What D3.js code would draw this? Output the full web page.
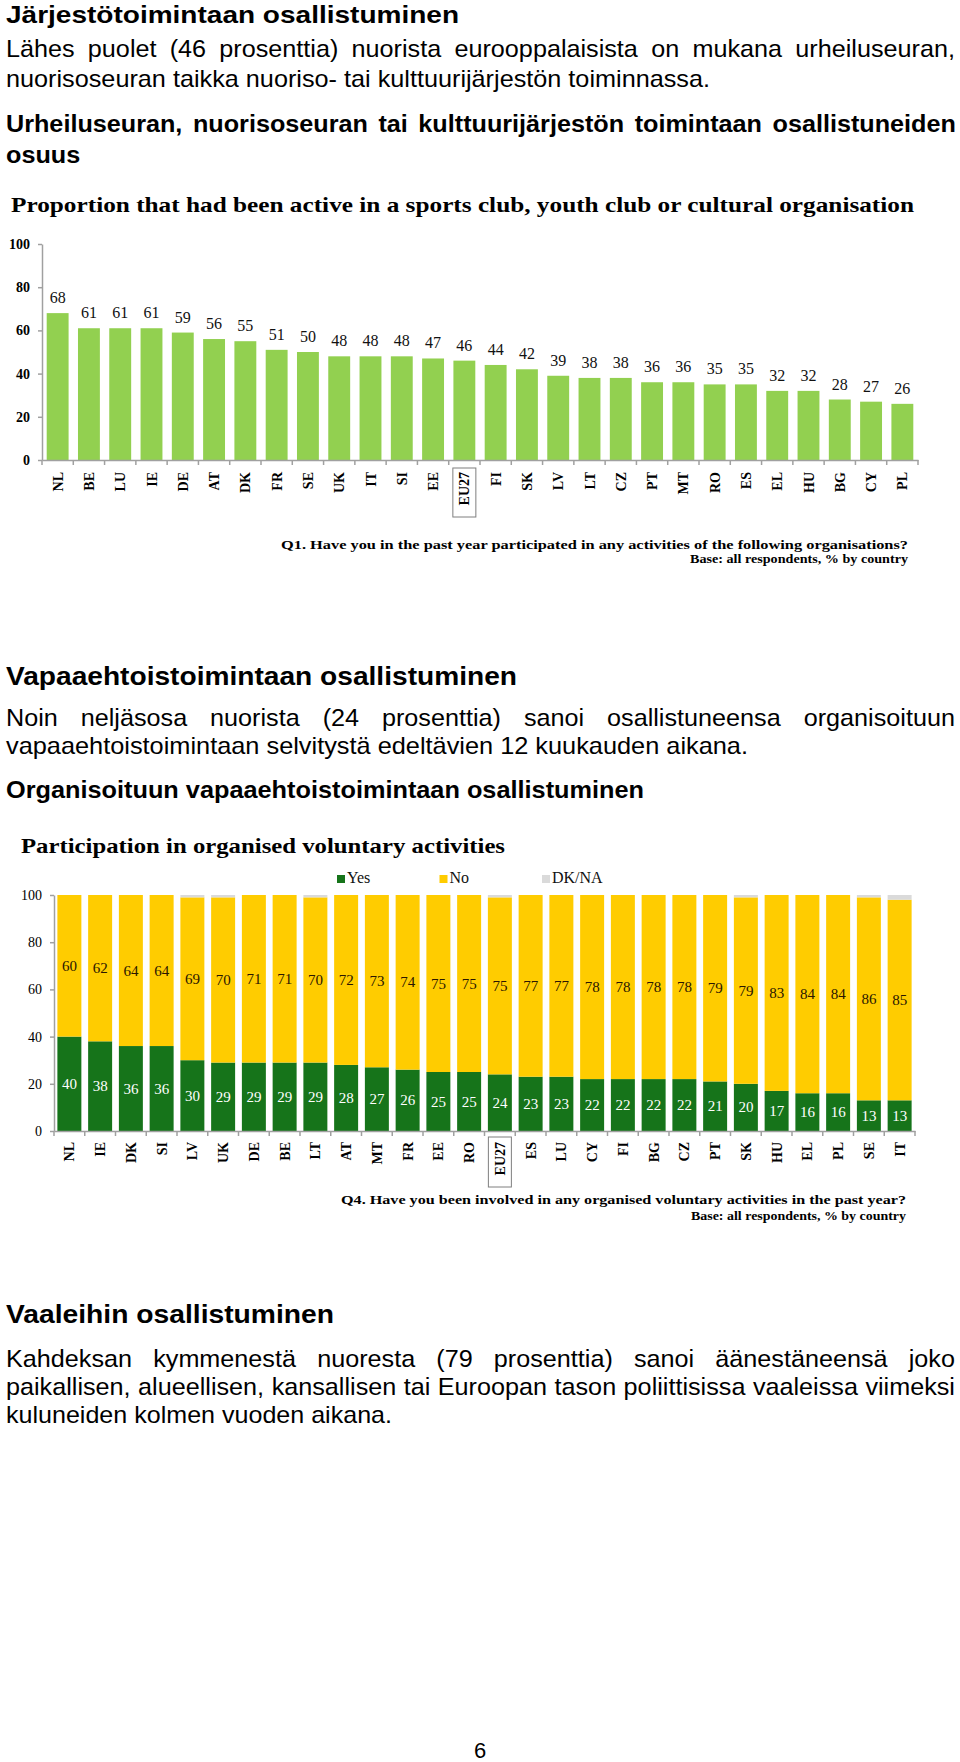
<!DOCTYPE html>
<html>
<head>
<meta charset="utf-8">
<script src="https://cdn.jsdelivr.net/npm/d3@7"></script>
<style>
  html, body { margin: 0; padding: 0; background: #fff; }
  svg { display: block; }
</style>
</head>
<body>
<script>
// ---------------- DATA ----------------
const categories1 = ["NL","BE","LU","IE","DE","AT","DK","FR","SE","UK","IT","SI","EE","EU27","FI","SK","LV","LT","CZ","PT","MT","RO","ES","EL","HU","BG","CY","PL"];
const values1 = [68,61,61,61,59,56,55,51,50,48,48,48,47,46,44,42,39,38,38,36,36,35,35,32,32,28,27,26];

const categories2 = ["NL","IE","DK","SI","LV","UK","DE","BE","LT","AT","MT","FR","EE","RO","EU27","ES","LU","CY","FI","BG","CZ","PT","SK","HU","EL","PL","SE","IT"];
const yes2  = [40,38,36,36,30,29,29,29,29,28,27,26,25,25,24,23,23,22,22,22,22,21,20,17,16,16,13,13];
const no2   = [60,62,64,64,69,70,71,71,70,72,73,74,75,75,75,77,77,78,78,78,78,79,79,83,84,84,86,85];
const dkna2 = [0,0,0,0,1,1,0,0,1,0,0,0,0,0,1,0,0,0,0,0,0,0,1,0,0,0,1,2];
const seriesNames2 = ["Yes","No","DK/NA"];

const yTicks = [0,20,40,60,80,100];

// ---------------- STYLE ----------------
const SANS = "'Liberation Sans', Arial, sans-serif";
const SERIF = "'Liberation Serif', 'Times New Roman', serif";
const SX = 1.05;
const GREEN1 = "#92d050";
const GREEN2 = "#16741a";
const YELLOW = "#ffcc00";
const GREY = "#dadada";
const AXIS = "#a0a0a0";

const svg = d3.select("body").append("svg")
  .attr("width", 960).attr("height", 1762)
  .style("background", "#fff");

// ---------------- TEXT HELPERS ----------------
function fitLine(str, x0, x1, y, size, weight, family) {
  return svg.append("text")
    .attr("x", x0).attr("y", y)
    .attr("font-family", family || SANS)
    .attr("font-size", size)
    .attr("font-weight", weight || "normal")
    .attr("fill", "#000")
    .attr("textLength", x1 - x0)
    .attr("lengthAdjust", "spacingAndGlyphs")
    .text(str);
}
function scaledLine(str, x0, y, size, weight, family, sx) {
  return svg.append("text")
    .attr("transform", `translate(${x0},${y}) scale(${sx},1)`)
    .attr("font-family", family || SANS)
    .attr("font-size", size)
    .attr("font-weight", weight || "normal")
    .attr("fill", "#000")
    .text(str);
}
function justifyLine(str, x0, x1, y, size, weight, family, sx) {
  const words = str.split(" ");
  const g = svg.append("g");
  const nodes = words.map(w => g.append("text")
    .attr("font-family", family || SANS)
    .attr("font-size", size)
    .attr("font-weight", weight || "normal")
    .attr("fill", "#000")
    .text(w));
  const widths = nodes.map(n => n.node().getComputedTextLength() * sx);
  const gap = (x1 - x0 - d3.sum(widths)) / (words.length - 1);
  let x = x0;
  nodes.forEach((n, i) => {
    n.attr("transform", `translate(${x},${y}) scale(${sx},1)`);
    x += widths[i] + gap;
  });
}

// ---------------- PAGE TEXT ----------------
fitLine("Järjestötoimintaan osallistuminen", 6, 459, 23, 24, "bold");
justifyLine("Lähes puolet (46 prosenttia) nuorista eurooppalaisista on mukana urheiluseuran,", 6, 955, 57, 24, "normal", SANS, SX);
fitLine("nuorisoseuran taikka nuoriso- tai kulttuurijärjestön toiminnassa.", 6, 710, 87, 24, "normal");
justifyLine("Urheiluseuran, nuorisoseuran tai kulttuurijärjestön toimintaan osallistuneiden", 6, 956, 132, 24, "bold", SANS, SX);
scaledLine("osuus", 6, 163, 24, "bold", SANS, SX);

fitLine("Proportion that had been active in a sports club, youth club or cultural organisation", 11, 914, 212, 22, "bold", SERIF);

fitLine("Vapaaehtoistoimintaan osallistuminen", 6, 517, 685, 25, "bold");
justifyLine("Noin neljäsosa nuorista (24 prosenttia) sanoi osallistuneensa organisoituun", 6, 955, 726, 24, "normal", SANS, SX);
fitLine("vapaaehtoistoimintaan selvitystä edeltävien 12 kuukauden aikana.", 6, 748, 754, 24, "normal");
fitLine("Organisoituun vapaaehtoistoimintaan osallistuminen", 6, 644, 798, 24, "bold");

fitLine("Participation in organised  voluntary activities", 21, 505, 853, 22, "bold", SERIF);

fitLine("Vaaleihin osallistuminen", 6, 334, 1323, 25, "bold");
justifyLine("Kahdeksan kymmenestä nuoresta (79 prosenttia) sanoi äänestäneensä joko", 6, 955, 1367, 24, "normal", SANS, SX);
justifyLine("paikallisen, alueellisen, kansallisen tai Euroopan tason poliittisissa vaaleissa viimeksi", 6, 955, 1395, 24, "normal", SANS, SX);
fitLine("kuluneiden kolmen vuoden aikana.", 6, 392, 1423, 24, "normal");

svg.append("text").attr("x", 480).attr("y", 1758).attr("text-anchor", "middle")
  .attr("font-family", SANS).attr("font-size", 22).attr("fill", "#000").text("6");

// ---------------- CHART 1 ----------------
(function chart1() {
  const x = d3.scaleBand().domain(categories1).range([42, 918]).paddingInner(0.3).paddingOuter(0.15);
  const y = d3.scaleLinear().domain([0, 100]).range([460, 244]);
  const g = svg.append("g");

  g.selectAll("rect.bar").data(categories1).join("rect")
    .attr("class", "bar")
    .attr("x", d => x(d))
    .attr("y", (d, i) => y(values1[i]))
    .attr("width", x.bandwidth())
    .attr("height", (d, i) => y(0) - y(values1[i]))
    .attr("fill", GREEN1);

  g.selectAll("text.val").data(categories1).join("text")
    .attr("class", "val")
    .attr("x", d => x(d) + x.bandwidth() / 2)
    .attr("y", (d, i) => y(values1[i]) - 10)
    .attr("text-anchor", "middle")
    .attr("font-family", SERIF).attr("font-size", 16).attr("fill", "#111")
    .text((d, i) => values1[i]);

  const ya = g.append("g").attr("transform", `translate(${x.range()[0]},0)`)
    .call(d3.axisLeft(y).tickValues(yTicks).tickSize(4).tickSizeOuter(0).tickPadding(8));
  ya.select(".domain").attr("stroke", AXIS).attr("stroke-width", 1.5);
  ya.selectAll(".tick line").attr("stroke", AXIS).attr("stroke-width", 1.5);
  ya.selectAll(".tick text").attr("font-family", SERIF).attr("font-weight", "bold")
    .attr("font-size", 14).attr("fill", "#000");

  const xa = g.append("g").attr("transform", `translate(0,${y(0)})`)
    .call(d3.axisBottom(x).tickSize(0).tickSizeOuter(0).tickFormat(""));
  xa.select(".domain").attr("stroke", AXIS).attr("stroke-width", 1.5);
  const half = x.paddingInner() * x.step() / 2;
  const bounds = categories1.map(d => x(d) - half).concat([x.range()[1]]);
  xa.selectAll("line.b").data(bounds).join("line").attr("class", "b")
    .attr("x1", d => d).attr("x2", d => d).attr("y1", 0).attr("y2", 5)
    .attr("stroke", AXIS).attr("stroke-width", 1.5);

  const labTop = y(0) + 12;
  g.selectAll("text.cat").data(categories1).join("text")
    .attr("class", "cat")
    .attr("transform", d => `translate(${x(d) + x.bandwidth() / 2 + 5},${labTop}) rotate(-90)`)
    .attr("text-anchor", "end")
    .attr("font-family", SERIF).attr("font-weight", "bold").attr("font-size", 14).attr("fill", "#000")
    .text(d => d);

  g.selectAll("rect.eu").data(categories1.filter(d => d === "EU27")).join("rect")
    .attr("class", "eu")
    .attr("x", d => x(d) + x.bandwidth() / 2 - 11.5)
    .attr("y", labTop - 4).attr("width", 23).attr("height", 49)
    .attr("fill", "none").attr("stroke", "#7f7f7f").attr("stroke-width", 1);

  fitLine("Q1. Have you in the past year participated in any activities of the following organisations?", 281, 908, 549, 13, "bold", SERIF);
  fitLine("Base: all respondents, % by country", 690, 908, 563, 13, "bold", SERIF);
})();

// ---------------- CHART 2 ----------------
(function chart2() {
  const rows = categories2.map((c, i) => ({ cat: c, Yes: yes2[i], No: no2[i], "DK/NA": dkna2[i] }));
  const stacked = d3.stack().keys(seriesNames2)(rows);
  const color = d3.scaleOrdinal().domain(seriesNames2).range([GREEN2, YELLOW, GREY]);

  const x = d3.scaleBand().domain(categories2).range([54, 915]).paddingInner(0.22).paddingOuter(0.11);
  const y = d3.scaleLinear().domain([0, 100]).range([1131, 895]);
  const g = svg.append("g");

  g.selectAll("g.series").data(stacked).join("g")
    .attr("class", "series")
    .attr("fill", s => color(s.key))
    .selectAll("rect").data(s => s).join("rect")
    .attr("x", d => x(d.data.cat))
    .attr("y", d => y(d[1]))
    .attr("width", x.bandwidth())
    .attr("height", d => y(d[0]) - y(d[1]));

  // value labels (Yes and No)
  const labelCol = { Yes: "#ffffff", No: "#2a1600" };
  stacked.filter(s => s.key !== "DK/NA").forEach(s => {
    g.selectAll(null).data(s).join("text")
      .attr("x", d => x(d.data.cat) + x.bandwidth() / 2)
      .attr("y", d => y((d[0] + d[1]) / 2) + 5)
      .attr("text-anchor", "middle")
      .attr("font-family", SERIF).attr("font-size", 15)
      .attr("fill", labelCol[s.key])
      .text(d => d.data[s.key]);
  });

  const ya = g.append("g").attr("transform", `translate(${x.range()[0]},0)`)
    .call(d3.axisLeft(y).tickValues(yTicks).tickSize(4).tickSizeOuter(0).tickPadding(8));
  ya.select(".domain").attr("stroke", AXIS).attr("stroke-width", 1.5);
  ya.selectAll(".tick line").attr("stroke", AXIS).attr("stroke-width", 1.5);
  ya.selectAll(".tick text").attr("font-family", SERIF).attr("font-size", 14).attr("fill", "#000");

  const xa = g.append("g").attr("transform", `translate(0,${y(0)})`)
    .call(d3.axisBottom(x).tickSize(0).tickSizeOuter(0).tickFormat(""));
  xa.select(".domain").attr("stroke", AXIS).attr("stroke-width", 1.5);
  const half = x.paddingInner() * x.step() / 2;
  const bounds = categories2.map(d => x(d) - half).concat([x.range()[1]]);
  xa.selectAll("line.b").data(bounds).join("line").attr("class", "b")
    .attr("x1", d => d).attr("x2", d => d).attr("y1", 0).attr("y2", 5)
    .attr("stroke", AXIS).attr("stroke-width", 1.5);

  const labTop = y(0) + 11;
  g.selectAll("text.cat").data(categories2).join("text")
    .attr("class", "cat")
    .attr("transform", d => `translate(${x(d) + x.bandwidth() / 2 + 5},${labTop}) rotate(-90)`)
    .attr("text-anchor", "end")
    .attr("font-family", SERIF).attr("font-weight", "bold").attr("font-size", 14).attr("fill", "#000")
    .text(d => d);

  g.selectAll("rect.eu").data(categories2.filter(d => d === "EU27")).join("rect")
    .attr("class", "eu")
    .attr("x", d => x(d) + x.bandwidth() / 2 - 11.5)
    .attr("y", labTop - 5).attr("width", 23).attr("height", 50)
    .attr("fill", "none").attr("stroke", "#7f7f7f").attr("stroke-width", 1);

  // legend
  const legX = d3.scalePoint().domain(seriesNames2).range([337, 542]);
  const lg = g.selectAll("g.leg").data(seriesNames2).join("g")
    .attr("class", "leg")
    .attr("transform", d => `translate(${legX(d)},875)`);
  lg.append("rect").attr("width", 8).attr("height", 8).attr("fill", d => color(d));
  lg.append("text").attr("x", 10).attr("y", 8)
    .attr("font-family", SERIF).attr("font-size", 16).attr("fill", "#111")
    .text(d => d);

  fitLine("Q4. Have you been involved in any organised voluntary activities in the past year?", 341, 906, 1204, 13, "bold", SERIF);
  fitLine("Base: all respondents, % by country", 691, 906, 1220, 13, "bold", SERIF);
})();
</script>
</body>
</html>
